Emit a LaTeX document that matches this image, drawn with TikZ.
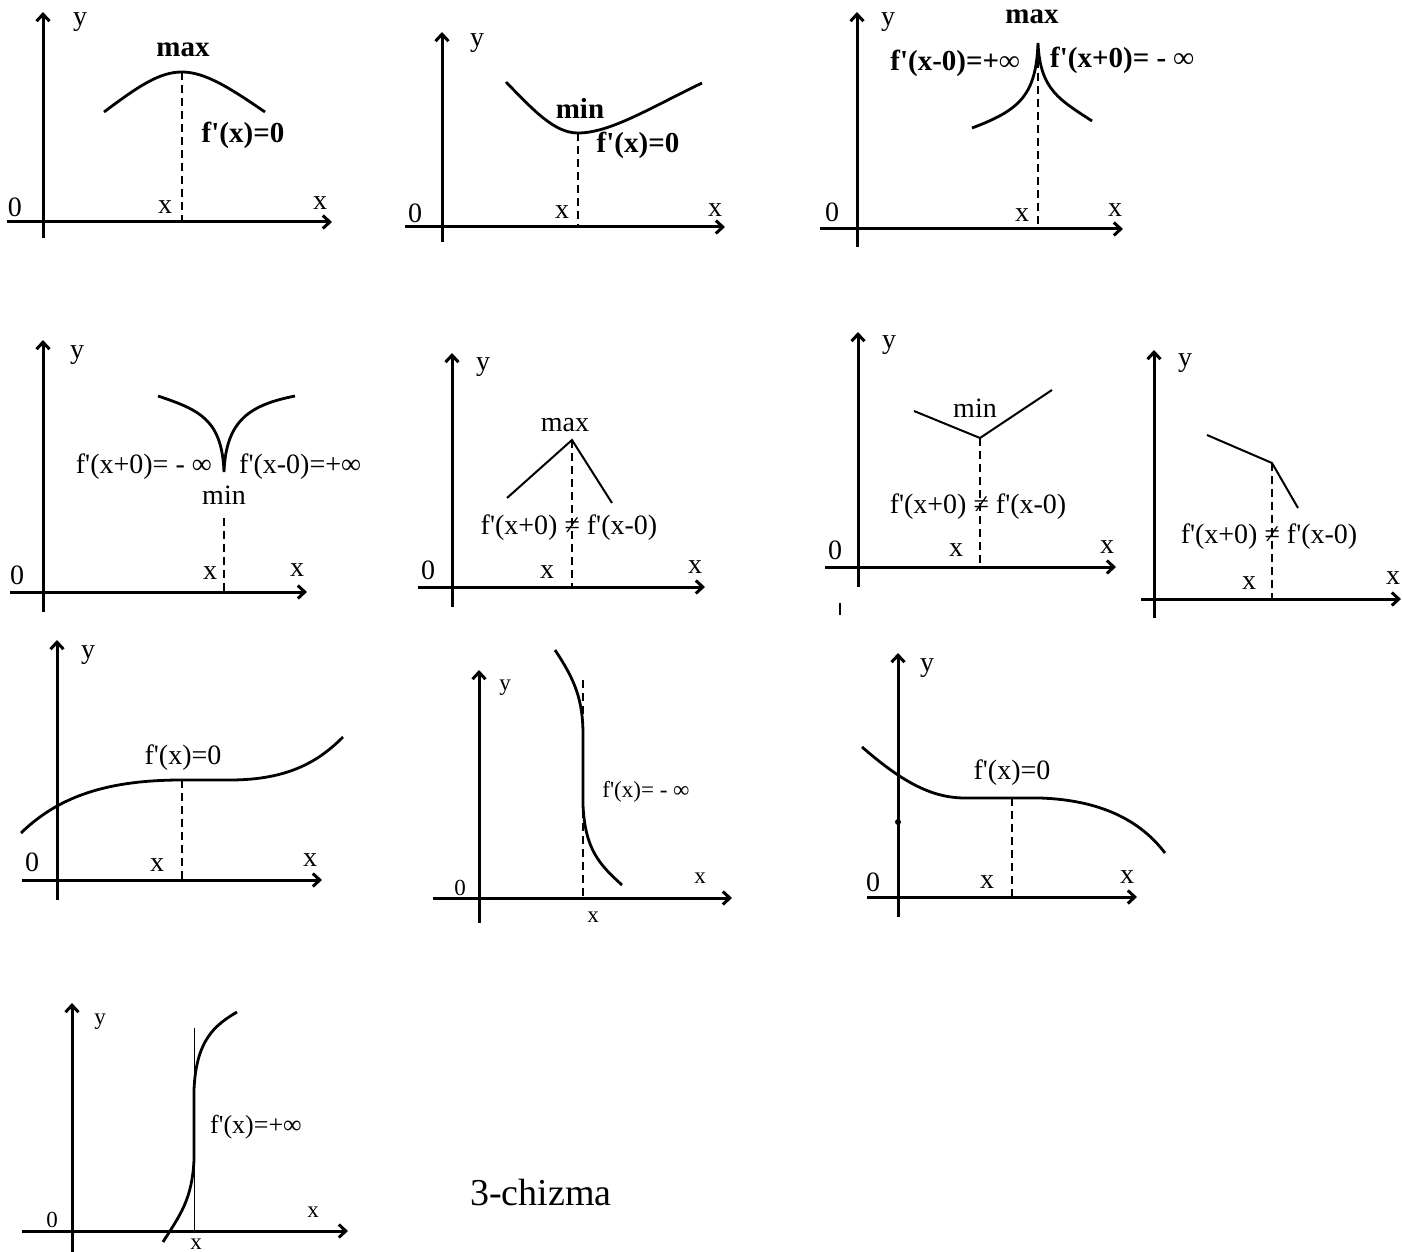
\documentclass[tikz,border=0pt]{standalone}
\usepackage{fontspec}
\setmainfont{Liberation Serif}[Ligatures=TeXOff]
\usetikzlibrary{arrows.meta}
\newcommand\fp{f'}
\tikzset{
  axis/.style={line width=3pt,-{Straight Barb[length=7pt,width=13pt]}},
  curve/.style={line width=2.8pt},
  seg/.style={line width=2pt},
  dashln/.style={line width=1.5pt,dash pattern=on 8pt off 5pt},
  lab/.style={font=\fontsize{28}{30}\selectfont,inner sep=0pt},
  blab/.style={font=\bfseries\fontsize{29}{31}\selectfont,inner sep=0pt},
  slab/.style={font=\fontsize{23}{25}\selectfont,inner sep=0pt},
  mlab/.style={font=\fontsize{26}{28}\selectfont,inner sep=0pt},
}
\begin{document}
\begin{tikzpicture}[x=1pt,y=-1pt]
\useasboundingbox (0,0) rectangle (1403,1252);
% ---------- Panel 1 ----------
\draw[axis] (7,222) -- (332,222);
\draw[axis] (43,238) -- (43,12);
\draw[dashln] (182,72) -- (182,222);
\draw[curve] (104,112) .. controls (140,85) and (160,72) .. (182,72) .. controls (205,72) and (230,88) .. (265,112);
\node[lab] (p1y) at (80,22) {y};
\node[lab] (p1o) at (15,207) {0};
\node[lab] (p1xa) at (320,203) {x};
\node[lab] (p1x) at (165,207) {x};
\node[blab] (p1max) at (183,50) {max};
\node[blab] (p1f) at (243,135) {\fp(x)=0};
% ---------- Panel 2 ----------
\draw[axis] (405,227) -- (725,227);
\draw[axis] (442,242) -- (442,32);
\draw[dashln] (578,133) -- (578,227);
\draw[curve] (506,82) .. controls (535,112) and (555,133) .. (578,133) .. controls (610,133) and (650,108) .. (702,83);
\node[lab] (p2y) at (477,43) {y};
\node[lab] (p2o) at (415,213) {0};
\node[lab] (p2xa) at (715,210) {x};
\node[lab] (p2x) at (562,212) {x};
\node[blab] (p2min) at (580,108) {min};
\node[blab] (p2f) at (638,145) {\fp(x)=0};
% ---------- Panel 3 ----------
\draw[axis] (820,229) -- (1123,229);
\draw[axis] (857,247) -- (857,12);
\draw[dashln] (1038,60) -- (1038,229);
\draw[curve] (972,128) .. controls (1020,110) and (1036,95) .. (1038,43) .. controls (1040,90) and (1060,100) .. (1092,121);
\node[lab] (p3y) at (888,22) {y};
\node[lab] (p3o) at (832,212) {0};
\node[lab] (p3xa) at (1115,210) {x};
\node[lab] (p3x) at (1022,215) {x};
\node[blab] (p3max) at (1032,17) {max};
\node[blab,anchor=east] (p3fl) at (1020,63) {\fp(x-0)=+∞};
\node[blab,anchor=west] (p3fr) at (1050,60) {\fp(x+0)= - ∞};
% ---------- Panel 4 ----------
\draw[axis] (10,592) -- (307,592);
\draw[axis] (43,612) -- (43,340);
\draw[dashln] (224,518) -- (224,592);
\draw[curve] (158,396) .. controls (200,410) and (222,420) .. (224,472) .. controls (226,420) and (250,405) .. (295,396);
\node[lab] (p4y) at (77,355) {y};
\node[lab] (p4o) at (17,575) {0};
\node[lab] (p4xa) at (297,570) {x};
\node[lab] (p4x) at (210,573) {x};
\node[lab,anchor=east] (p4fl) at (212,467) {\fp(x+0)= - ∞};
\node[lab,anchor=west] (p4fr) at (239,467) {\fp(x-0)=+∞};
\node[lab] (p4min) at (224,495) {min};
% ---------- Panel 5 ----------
\draw[axis] (418,587) -- (705,587);
\draw[axis] (452,607) -- (452,353);
\draw[dashln] (572,440) -- (572,587);
\draw[seg] (507,498) -- (572,440) -- (612,503);
\node[lab] (p5y) at (483,367) {y};
\node[lab] (p5o) at (428,570) {0};
\node[lab] (p5xa) at (695,567) {x};
\node[lab] (p5x) at (547,572) {x};
\node[lab] (p5max) at (565,425) {max};
\node[lab] (p5f) at (569,528) {\fp(x+0) ≠ \fp(x-0)};
% ---------- Panel 6 ----------
\draw[axis] (825,567) -- (1116,567);
\draw[axis] (858,587) -- (858,332);
\draw[dashln] (980,438) -- (980,567);
\draw[seg] (914,411) -- (980,438) -- (1052,390);
\draw[line width=2pt] (840,603) -- (840,615);
\node[lab] (p6y) at (889,345) {y};
\node[lab] (p6o) at (835,550) {0};
\node[lab] (p6xa) at (1107,547) {x};
\node[lab] (p6x) at (956,550) {x};
\node[lab] (p6min) at (975,408) {min};
\node[lab] (p6f) at (978,507) {\fp(x+0) ≠ \fp(x-0)};
% ---------- Panel 7 ----------
\draw[axis] (1141,599) -- (1401,599);
\draw[axis] (1154,618) -- (1154,350);
\draw[dashln] (1272,463) -- (1272,599);
\draw[seg] (1207,435) -- (1272,463) -- (1298,508);
\node[lab] (p7y) at (1185,363) {y};
\node[lab] (p7xa) at (1393,578) {x};
\node[lab] (p7x) at (1249,583) {x};
\node[lab] (p7f) at (1269,537) {\fp(x+0) ≠ \fp(x-0)};
% ---------- Panel 8 ----------
\draw[axis] (22,880) -- (322,880);
\draw[axis] (57,900) -- (57,640);
\draw[dashln] (182,780) -- (182,880);
\draw[curve] (21,833) .. controls (60,795) and (110,780) .. (182,780) -- (230,780) .. controls (290,780) and (320,760) .. (343,737);
\node[lab] (p8y) at (88,655) {y};
\node[lab] (p8o) at (32,862) {0};
\node[lab] (p8xa) at (310,860) {x};
\node[lab] (p8x) at (157,865) {x};
\node[lab] (p8f) at (183,758) {\fp(x)=0};
% ---------- Panel 9 ----------
\draw[axis] (433,898) -- (732,898);
\draw[axis] (479,923) -- (479,670);
\draw[dashln] (583,680) -- (583,898);
\draw[curve] (555,650) .. controls (575,680) and (583,700) .. (583,735) -- (583,805) .. controls (585,850) and (600,865) .. (622,885);
\node[slab] (p9y) at (505,688) {y};
\node[slab] (p9o) at (460,888) {0};
\node[slab] (p9xa) at (700,878) {x};
\node[slab] (p9x) at (593,917) {x};
\node[slab] (p9f) at (646,792) {\fp(x)= - ∞};
% ---------- Panel 10 ----------
\draw[axis] (867,897) -- (1137,897);
\draw[axis] (898,917) -- (898,653);
\draw[dashln] (1012,798) -- (1012,897);
\draw[curve] (862,747) .. controls (900,780) and (930,798) .. (965,798) -- (1040,798) .. controls (1100,800) and (1140,820) .. (1165,853);
\fill (898,822) circle (3);
\node[lab] (p10y) at (927,668) {y};
\node[lab] (p10o) at (873,882) {0};
\node[lab] (p10xa) at (1127,877) {x};
\node[lab] (p10x) at (987,882) {x};
\node[lab] (p10f) at (1012,773) {\fp(x)=0};
% ---------- Panel 11 ----------
\draw[axis] (22,1231) -- (348,1231);
\draw[axis] (72,1252) -- (72,1003);
\draw[line width=1pt] (194,1028) -- (194,1231);
\draw[curve] (163,1242) .. controls (180,1215) and (192,1200) .. (194,1160) -- (194,1090) .. controls (196,1040) and (215,1025) .. (237,1012);
\node[slab] (p11y) at (100,1022) {y};
\node[slab] (p11o) at (52,1220) {0};
\node[slab] (p11xa) at (313,1212) {x};
\node[slab] (p11x) at (196,1244) {x};
\node[mlab] (p11f) at (256,1127) {\fp(x)=+∞};
% ---------- caption ----------
\node[font=\fontsize{38}{40}\selectfont,inner sep=0pt] (cap) at (541,1192) {3-chizma};
\end{tikzpicture}
\end{document}
